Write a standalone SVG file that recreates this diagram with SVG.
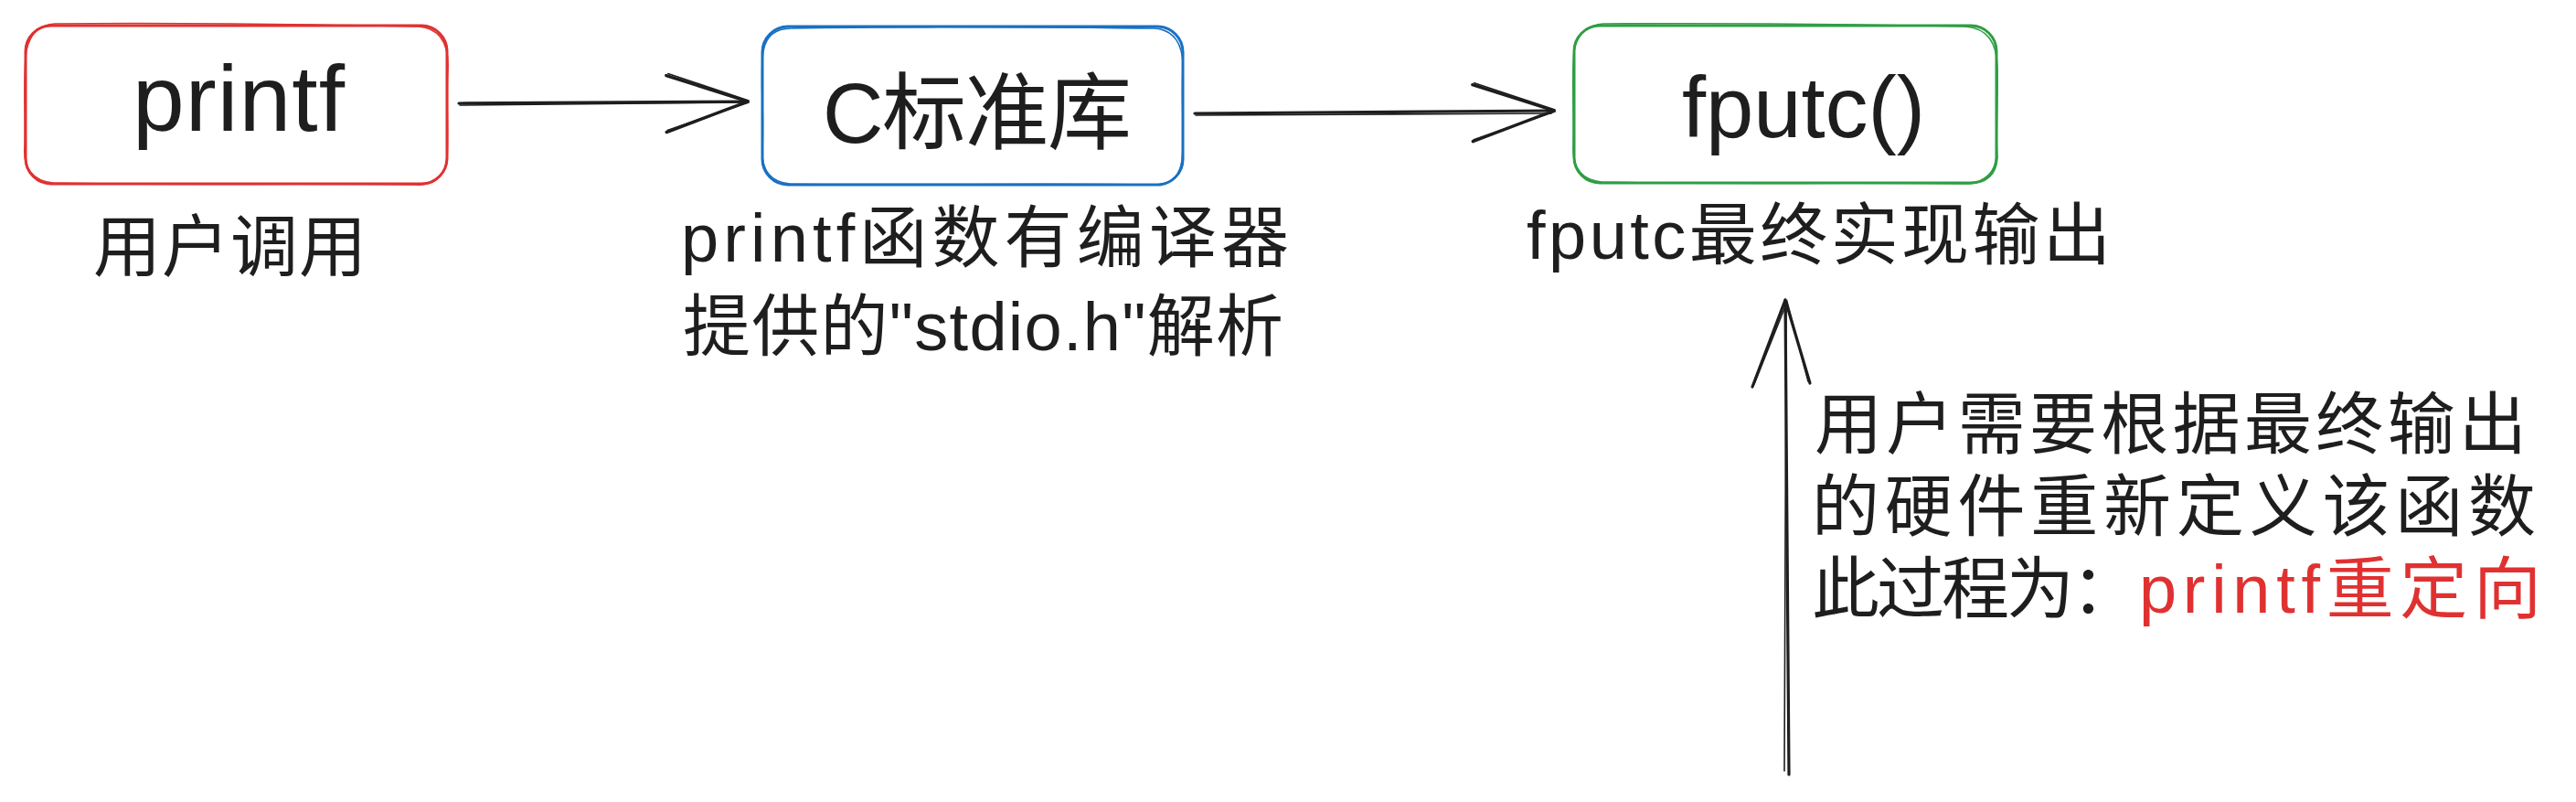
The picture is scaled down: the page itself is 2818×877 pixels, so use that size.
<svg xmlns="http://www.w3.org/2000/svg" width="2818" height="877" viewBox="0 0 2818 877">
  <style>
    .bg { fill: #ffffff; }
    .box { fill: none; stroke-width: 3; stroke-linejoin: round; }
    .box2 { fill: none; stroke-width: 1.6; }
    .red { stroke: #e03131; }
    .blue { stroke: #1971c2; }
    .green { stroke: #2f9e44; }
    .t { font-family: "Liberation Sans", "Noto Sans CJK SC", sans-serif; fill: #1e1e1e; }
    .big { font-size: 92px; }
    .cap { font-size: 74px; }
    .redtxt { fill: #e03131; }
    .conn { fill: none; stroke: #1e1e1e; stroke-width: 3.2; stroke-linecap: round; }
    .conn2 { fill: none; stroke: #1e1e1e; stroke-width: 1.6; stroke-linecap: round; }
  </style>
  <defs>
    <marker id="ah" markerUnits="userSpaceOnUse" viewBox="-100 -40 110 80" markerWidth="110" markerHeight="80" refX="0" refY="0" orient="auto" overflow="visible">
      <path d="M-89,-29 L0,0 L-89,33" fill="none" stroke="#1e1e1e" stroke-width="3.4" stroke-linecap="round" stroke-linejoin="round"/>
      <path d="M-87,-31 L1,-1 M-88,31 L1,1" fill="none" stroke="#1e1e1e" stroke-width="1.6" stroke-linecap="round"/>
    </marker>
  </defs>
  <rect class="bg" x="0" y="0" width="2818" height="877"/>

  <g id="connectors">
    <g id="edge-printf-clib">
      <path class="conn2" d="M503,115 L816,112"/>
      <path class="conn" d="M502,113 L818,111" marker-end="url(#ah)"/>
    </g>
    <g id="edge-clib-fputc">
      <path class="conn2" d="M1308,126 L1697,124"/>
      <path class="conn" d="M1307,124 L1700,121" marker-end="url(#ah)"/>
    </g>
    <g id="edge-redirect">
      <path class="conn2" d="M1952,843 L1954,330"/>
      <path class="conn" d="M1957,847 L1953,328"/>
      <path class="conn" d="M1917,423 L1953,328 L1980,419" stroke-linejoin="round"/>
      <path class="conn2" d="M1919,420 L1955,330 L1978,417"/>
    </g>
  </g>

  <g id="node-printf">
    <rect class="box red" x="28" y="28" width="461" height="173" rx="28" ry="28"/>
    <path class="box2 red" d="M60,26 C200,24 350,27 458,29 C482,31 491,48 490,75 C488,110 491,150 489,172 C487,196 472,203 455,202 C330,200 180,203 58,200 C36,198 25,184 27,160 C28,120 25,80 29,55 C33,36 44,27 60,26 Z"/>
    <text class="t big" x="261" y="143" text-anchor="middle" textLength="232" style="font-size:102px">printf</text>
  </g>

  <g id="node-clib">
    <rect class="box blue" x="834" y="29" width="460" height="173" rx="28" ry="28"/>
    <path class="box2 blue" d="M866,31 C1000,28 1150,30 1262,31 C1284,32 1295,48 1294,76 C1292,110 1296,150 1293,175 C1290,196 1278,203 1262,202 C1130,200 990,203 864,201 C842,199 832,186 834,160 C836,120 831,80 835,56 C838,38 850,31 866,31 Z"/>
    <text class="t big" x="1069" y="156" text-anchor="middle" textLength="338">C标准库</text>
  </g>

  <g id="node-fputc">
    <rect class="box green" x="1722" y="28" width="462" height="172" rx="28" ry="28"/>
    <path class="box2 green" d="M1754,26 C1900,25 2050,27 2150,29 C2174,31 2184,46 2185,72 C2186,110 2183,150 2185,172 C2184,194 2170,201 2152,201 C2020,199 1880,202 1752,199 C1730,197 1720,184 1721,160 C1722,120 1719,80 1722,56 C1725,36 1738,27 1754,26 Z"/>
    <text class="t big" x="1973" y="150" text-anchor="middle" textLength="266" style="font-size:94px">fputc()</text>
  </g>

  <g id="label-printf">
    <text class="t cap" x="102" y="296" textLength="299">用户调用</text>
  </g>

  <g id="label-clib">
    <text class="t cap" x="745" y="286" textLength="665">printf函数有编译器</text>
    <text class="t cap" x="747" y="383" textLength="657">提供的"stdio.h"解析</text>
  </g>

  <g id="label-fputc">
    <text class="t cap" x="1670" y="283" textLength="639">fputc最终实现输出</text>
  </g>

  <g id="label-redirect">
    <text class="t cap" x="1985" y="490" textLength="779">用户需要根据最终输出</text>
    <text class="t cap" x="1982" y="580" textLength="792">的硬件重新定义该函数</text>
    <text class="t cap" x="1982" y="670" textLength="358">此过程为：</text>
    <text class="t cap redtxt" x="2340" y="670" textLength="440">printf重定向</text>
  </g>
</svg>
